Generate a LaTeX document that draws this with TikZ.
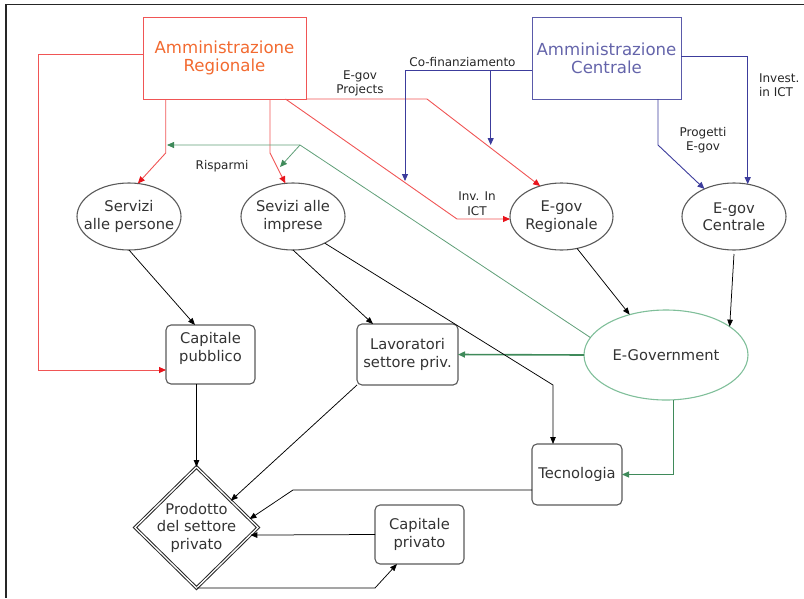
\documentclass[tikz,border=0pt]{standalone}
\usepackage{fontspec}
\setmainfont{DejaVu Sans}
\usetikzlibrary{shapes.geometric,arrows.meta,calc}

\definecolor{regred}{HTML}{F05555}
\definecolor{regtext}{HTML}{F26A30}
\definecolor{arrred}{HTML}{E8141C}
\definecolor{cenblue}{HTML}{3C3C9C}
\definecolor{centext}{HTML}{6464AA}
\definecolor{cenbox}{HTML}{5A5AAA}
\definecolor{govgreen}{HTML}{5F9F78}
\definecolor{govdark}{HTML}{3F8A5A}
\definecolor{govring}{HTML}{80BF9A}
\definecolor{ink}{HTML}{333333}

\begin{document}
\begin{tikzpicture}[x=1pt,y=-1pt,
  every node/.style={inner sep=0pt, outer sep=0pt},
  txt/.style={font=\fontsize{14.7}{17.5}\selectfont, text=ink, align=center},
  tiny/.style={font=\fontsize{12}{14.5}\selectfont, text=black!85, align=center},
  title/.style={font=\fontsize{16.6}{18}\selectfont, align=center},
  oval/.style={ellipse, draw=black!65, line width=1.1pt},
  rbox/.style={rectangle, rounded corners=5pt, draw=black!65, line width=1.1pt, txt},
  kline/.style={draw=black, line width=0.75pt, -{Triangle[length=7pt,width=5.5pt]}},
  rline/.style={draw=regred, line width=0.9pt, -{Triangle[length=7pt,width=6pt,color=arrred]}},
  bline/.style={draw=cenblue, line width=0.9pt, -{Triangle[length=7pt,width=6pt]}},
  gline/.style={draw=govgreen, line width=0.8pt, -{Triangle[length=7pt,width=6pt,color=govdark]}},
  gthick/.style={draw=govdark, line width=1.6pt, -{Triangle[length=7pt,width=6pt]}},
  gmid/.style={draw=govdark, line width=1pt, -{Triangle[length=7pt,width=6pt]}},
]
\useasboundingbox (0,0) rectangle (804,598);

% outer frame (top and left edges)
\draw[line width=1.3pt, black!85] (804,4.5) -- (6,4.5) -- (6,598);

% administrations
\node[draw=regred, line width=1pt, minimum width=163pt, minimum height=82pt,
      title, text=regtext] (ar) at (224.5,58) {Amministrazione\\Regionale};
\node[draw=cenbox, line width=1pt, minimum width=149pt, minimum height=82pt,
      title, text=centext] (ac) at (606.5,58) {Amministrazione\\Centrale};

% services and e-gov ellipses
\node[oval, minimum width=104pt, minimum height=67pt,
      label={[txt]center:Servizi\\alle persone}] (sp) at (129,216.5) {};
\node[oval, minimum width=104pt, minimum height=67pt,
      label={[txt]center:Sevizi alle\\imprese}] (si) at (293,216.5) {};
\node[oval, minimum width=103pt, minimum height=67pt,
      label={[txt]center:E-gov\\Regionale}] (er) at (561.5,216.5) {};
\node[oval, minimum width=104pt, minimum height=67pt,
      label={[txt]center:E-gov\\Centrale}] (ec) at (734,216.5) {};
\node[ellipse, draw=govring, line width=1.1pt, minimum width=164pt, minimum height=90pt,
      label={[txt]center:E-Government}] (eg) at (666,355) {};

% boxes
\node[rbox, minimum width=89pt, minimum height=59pt,
      label={[txt,yshift=6pt]center:Capitale\\pubblico}] (cp) at (210.5,354.5) {};
\node[rbox, minimum width=101pt, minimum height=61pt] (lav) at (407.5,354.5) {Lavoratori\\settore priv.};
\node[rbox, minimum width=90pt, minimum height=61pt] (tec) at (577,474.5) {Tecnologia};
\node[rbox, minimum width=89pt, minimum height=59pt] (cpr) at (419.5,534.5) {Capitale\\privato};

% private sector output
\node[diamond, aspect=1, minimum width=123pt, minimum height=121pt,
      draw=black!85, line width=1pt, double=white, double distance=1.3pt,
      label={[txt]center:Prodotto\\del settore\\privato}] (prod) at (196.5,527.5) {};

% regional flows
\coordinate (ictbend) at (457,219);
\draw[rline] ([yshift=3.5pt]ar.west) -- (38,54.5) |- ([yshift=-15.5pt]cp.west);
\draw[rline] ([xshift=-58.8pt]ar.south) -- ++(0,54) -- (sp.75);
\draw[rline] ([xshift=45.5pt]ar.south) -- ++(0,54) -- (si.103);
\draw[rline] ([xshift=61pt]ar.south) -- (ictbend) -- (er.west |- ictbend);
\draw[rline] (ar.south east) -- (427,99) -- (er.125);

% central flows
\coordinate (cfbar) at ([yshift=-12pt]ac.west);
\coordinate (cf1) at (405,181);
\coordinate (cf2) at (490.7,145);
\draw[bline] (cfbar) -| (cf1);
\draw[bline] (cf2 |- cfbar) -- (cf2);
\draw[bline] ([xshift=51.5pt]ac.south) -- ++(0,46) -- (ec.137);
\draw[bline] ([yshift=2pt]ac.east) -| (ec.67);

% savings and e-government effects
\coordinate (rsp) at (300,145);
\coordinate (rs1) at (167,145);
\coordinate (rs2) at (280,167);
\draw[gline] (eg.167) -- (rsp) -- (rs1);
\draw[gline] (rsp) -- (rs2);
\draw[gthick] (eg.west) -- (lav.east);
\draw[gmid] ([xshift=7.3pt]eg.south) |- (tec.east);

% production links
\draw[kline] (sp.south) -- ([xshift=-15.5pt]cp.north);
\draw[kline] (si.south) -- ([xshift=-34.5pt]lav.north);
\draw[kline] (si.-40) -- (553,385) -- ([xshift=-24pt]tec.north);
\draw[kline] (er.-64) -- (eg.132);
\draw[kline] ([yshift=-4pt]ec.south) -- (eg.24);
\draw[kline] ([xshift=-14pt]cp.south) -- (prod.north);
\draw[kline] (lav.south west) -- (prod.38);
\draw[kline] ([yshift=-15.5pt]tec.west) -- (293,490) -- (prod.9);
\draw[kline] (cpr.west) -- (prod.-8);
\draw[kline] (prod.south) -- (375,588) -- ([xshift=-22.5pt]cpr.south);

% flow labels
\node[tiny] (lbproj) at (360,83.5) {E-gov\\Projects};
\node[tiny] (lbinv) at (477,203.5) {Inv. In\\ICT};
\node[tiny] (lbcof) at (462.5,61.7) {Co-finanziamento};
\node[tiny] (lbprog) at (703,140) {Progetti\\E-gov};
\node[tiny, align=left, anchor=west] (lbinvest) at (759,85) {Invest.\\in ICT};
\node[tiny] (lbris) at (222,165.7) {Risparmi};
\end{tikzpicture}
\end{document}
